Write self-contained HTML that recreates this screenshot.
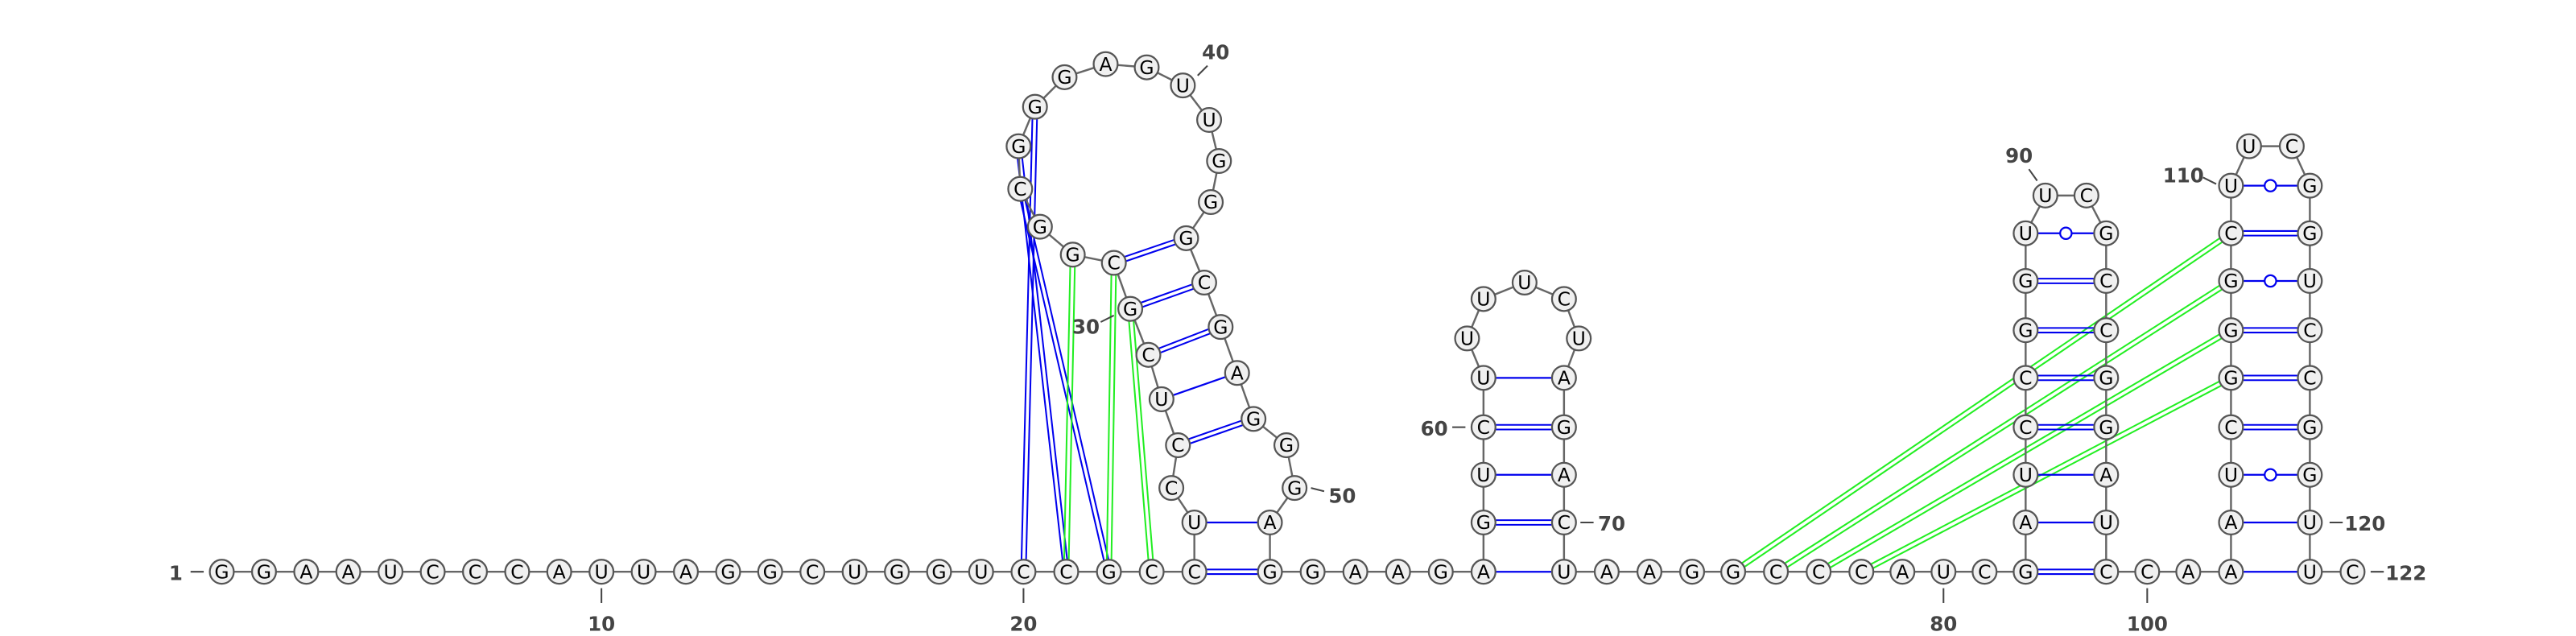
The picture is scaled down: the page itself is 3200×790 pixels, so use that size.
<!DOCTYPE html>
<html><head><meta charset="utf-8"><style>
html,body{margin:0;padding:0;background:#fff;}
svg{display:block;}
text{font-family:"DejaVu Sans","Liberation Sans",sans-serif;}
</style></head><body>
<svg id="chart" width="3200" height="790" viewBox="0 0 1568 387.1" preserveAspectRatio="none" xmlns="http://www.w3.org/2000/svg">
<g id="links"></g>
<g id="backbone"></g>
<g id="pairs"></g>
<g id="nts"></g>
<g id="labels"></g>
</svg>
<script>
const seq = "GGAAUCCCAUUAGGCUGGUCCGCC" + "UCCUCGCGGCGGGAGUUGGGCGAGGGA" + "GGAAGA" + "GUCUUUUCUAGAC" + "UAAGGCCCAUCG" + "AUCCGGUUCGCCGGAU" + "CCAA" + "AUCGGGCUUCGGUCCGGU" + "UC";
const posX = [135,160.7,186.4,212,237.7,263.4,289.1,314.8,340.4,366.1,391.8,417.5,443.2,468.8,494.5,520.2,545.9,571.6,597.2,623,649,675,701,727,
 727,713,717,707,699,688,678,653,633,621,620,630,648,673,698,720,736,742,737,722,733,743,753,763,783,788,773,
 773,799,825,851,877,903,
 903,903,903,903,893,903,928,952,961,952,952,952,952,
 952,978,1004,1030,1055,1081,1107,1133,1158,1183,1208,1233,
 1233,1233,1233,1233,1233,1233,1233,1245,1270,1282,1282,1282,1282,1282,1282,1282,1282,
 1307,1332,1358,
 1358,1358,1358,1358,1358,1358,1358,1358,1369,1395,1406,1406,1406,1406,1406,1406,1406,1406,
 1406,1432];
const posY = [348,348,348,348,348,348,348,348,348,348,348,348,348,348,348,348,348,348,348,348,348,348,348,348,
 318,297,271,243,216,188,160,155,138,115,89,65,47,39,41,52,73,98,123,145,172,199,227,255,271,297,318,
 348,348,348,348,348,348,
 318,289,260,230,206,182,172,182,206,230,260,289,318,
 348,348,348,348,348,348,348,348,348,348,348,348,
 318,289,260,230,201,171,142,119,119,142,171,201,230,260,289,318,348,
 348,348,348,
 318,289,260,230,201,171,142,113,89,89,113,142,171,201,230,260,289,318,
 348,348];
// pairs: type 1 single, 2 double, 3 wobble
const pairI = [24,25,27,28,29,30,31,57,58,59,60,61,82,83,84,85,86,87,88,89,102,103,104,105,106,107,108,109,110];
const pairJ = [52,51,48,47,46,45,44,71,70,69,68,67,99,98,97,96,95,94,93,92,121,120,119,118,117,116,115,114,113];
const pairT = [2,1,2,1,2,2,2,1,2,1,2,1,2,1,1,2,2,2,2,3,1,1,3,2,2,2,3,2,3];
const pkI = [36,35,34];
const pkJ = [20,21,22];
const terI = [32,31,30,75,76,77,78];
const terJ = [21,22,23,109,108,107,106];
const tickPos = [10,20,80,100];

const NS="http://www.w3.org/2000/svg";
function mk(tag, attrs, parent){const e=document.createElementNS(NS,tag);for(const k in attrs)e.setAttribute(k,attrs[k]);parent.appendChild(e);return e;}
const X=i=>posX[i-1], Y=i=>posY[i-1];
const gL=document.getElementById('links'),gB=document.getElementById('backbone'),gP=document.getElementById('pairs'),gN=document.getElementById('nts'),gT=document.getElementById('labels');

function dbl(i,j,color,parent,off,name){
  const x1=X(i),y1=Y(i),x2=X(j),y2=Y(j);const dx=x2-x1,dy=y2-y1,L=Math.hypot(dx,dy);
  const nx=-dy/L*off,ny=dx/L*off;
  for(const s of [-1,1]){
    const l=mk('line',{x1:x1+s*nx,y1:y1+s*ny,x2:x2+s*nx,y2:y2+s*ny,stroke:color,'stroke-width':1},parent);
    
    
  }
}
pkI.forEach((a,k)=>dbl(a,pkJ[k],'#0000ee',gL,1.4,'pseudoknot-pair'));
terI.forEach((a,k)=>dbl(a,terJ[k],'#22ee22',gL,1.4,'tertiary-interaction'));

for(let i=1;i<seq.length;i++){
  const l=mk('line',{x1:X(i),y1:Y(i),x2:X(i+1),y2:Y(i+1),stroke:'#666','stroke-width':1.2},gB);
  
  
}
pairI.forEach((a,k)=>{
  const b=pairJ[k],t=pairT[k];
  if(t===2){dbl(a,b,'#0000ee',gP,1.4,'base-pair');}
  else{
    const l=mk('line',{x1:X(a),y1:Y(a),x2:X(b),y2:Y(b),stroke:'#0000ee','stroke-width':1.1},gP);
    
    
    if(t===3){
      const c=mk('ellipse',{cx:(X(a)+X(b))/2,cy:(Y(a)+Y(b))/2,rx:3.5,ry:3.5,fill:'#fff',stroke:'#0000ee','stroke-width':1.1},gP);
      
      
    }
  }
});
for(let i=1;i<=seq.length;i++){
  const g=mk('g',{},gN);
  
  
  mk('circle',{cx:X(i),cy:Y(i),r:7.3,fill:'#f0f0f0',stroke:'#555','stroke-width':1.1},g);
  const t=mk('text',{x:X(i),y:Y(i)+4,'text-anchor':'middle','font-size':11.5,fill:'#000'},g);
  t.textContent=seq[i-1];
}
function lab(txt,x,y,anchor){
  const t=mk('text',{x:x,y:y,'text-anchor':anchor||'middle','font-size':12,'font-weight':'bold',fill:'#444'},gT);
  t.textContent=txt;
  
  
}
function tk(x1,y1,x2,y2){
  const l=mk('line',{x1,y1,x2,y2,stroke:'#444','stroke-width':1},gT);
  
  
}
tickPos.forEach(p=>{tk(X(p),358,X(p),367);lab(String(p),X(p),384);});
lab('1',107,353);tk(116,348,124,348);
tk(1443,348,1451,348);lab('122',1452,353,'start');
tk(1418,318,1426,318);lab('120',1427,323,'start');
lab('30',661,203);tk(670,196,678,192);
lab('40',740,36);tk(729,46,735,40);
lab('50',817,306);tk(798,297,806,299);
lab('60',873,265);tk(884,260,892,260);
lab('70',981,323);tk(962,318,970,318);
lab('90',1229,99);tk(1235,103,1240,110);
lab('110',1329,111);tk(1341,108,1349,112);
</script>
</body></html>
